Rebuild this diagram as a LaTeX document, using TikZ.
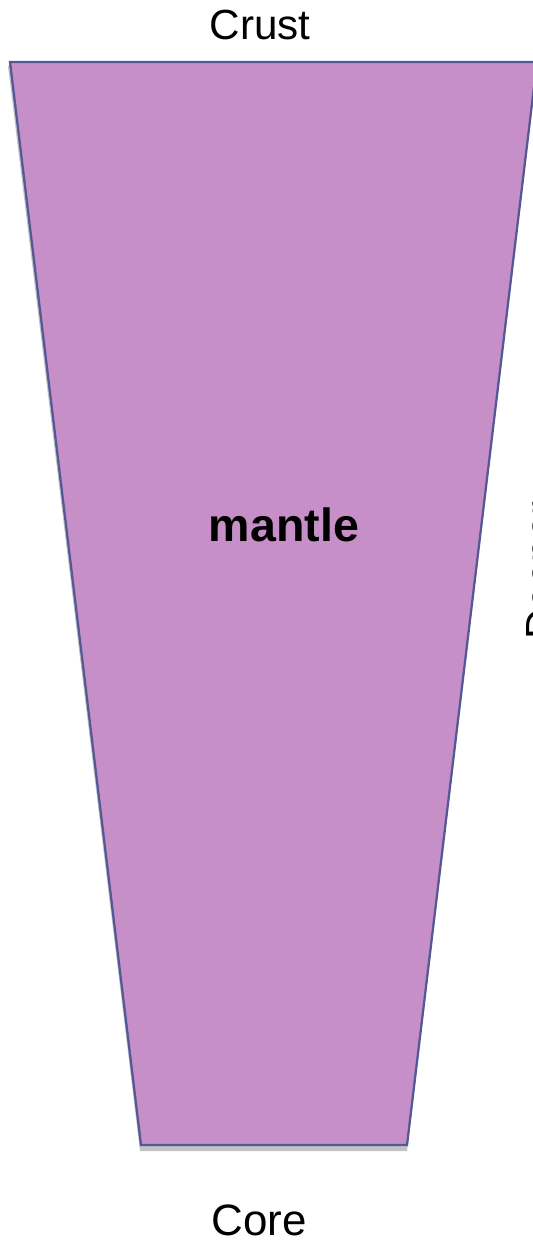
\documentclass[tikz,border=0pt]{standalone}
\usepackage{fontspec}
\setmainfont{Liberation Sans}
\definecolor{mantlefill}{RGB}{198,143,200}
\definecolor{mantleedge}{RGB}{85,88,150}
\definecolor{shadowgrey}{RGB}{195,195,195}
\begin{document}
\begin{tikzpicture}[x=0.02cm,y=-0.02cm,
  lbl/.style={font=\fontsize{24}{28}\selectfont, inner sep=0pt},
  lblbold/.style={font=\fontsize{26.5}{30}\selectfont\bfseries, inner sep=0pt}]
\useasboundingbox (0,0) rectangle (533,1243);
\coordinate (tl) at (10,62);
\coordinate (tr) at (537,62);
\coordinate (br) at (407,1145);
\coordinate (bl) at (141,1145);
% shadow
\fill[shadowgrey] ([shift={(-2,4)}]tl) -- ([shift={(0,4)}]tr) -- ([shift={(0,6)}]br) -- ([shift={(-1,6)}]bl) -- cycle;
% mantle body
\draw[fill=mantlefill, draw=mantleedge, line width=1.3pt, line join=miter] (tl) -- (tr) -- (br) -- (bl) -- cycle;
\node[lbl, anchor=base] (crust) at (260,40) {Crust};
\node[lbl, anchor=base, font=\fontsize{25}{29}\selectfont] (core) at (259,1235) {Core};
\node[lblbold, anchor=base] (mantle) at (284,541) {mantle};
\node[lbl, rotate=90, anchor=base west] (side) at (555,640) {Deeper};
\end{tikzpicture}
\end{document}
